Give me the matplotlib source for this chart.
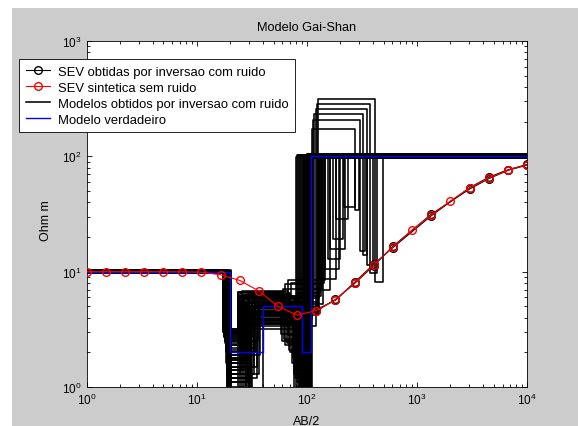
import matplotlib
matplotlib.use("Agg")
import matplotlib.pyplot as plt
from matplotlib.patches import Rectangle

plt.rcParams['font.family'] = ['Liberation Sans', 'DejaVu Sans']
plt.rcParams['mathtext.fontset'] = 'custom'
plt.rcParams['mathtext.rm'] = 'Liberation Sans'
plt.rcParams['mathtext.default'] = 'regular'

# AB/2 spacings (m)
ab2 = [1.0, 1.492, 2.227, 3.323, 4.963, 7.406, 11.05, 16.50, 24.62, 36.75,
       54.84, 81.85, 122.2, 182.4, 272.2, 406.3, 606.4, 905.0, 1350.7, 2016.0,
       3008.0, 4490.0, 6701.0, 10000.0]

# synthetic sounding, no noise
rho_sint = [10.0, 10.0, 10.0, 10.0, 10.0, 9.98, 9.9, 9.4, 8.4, 6.8,
            5.0, 4.2, 4.6, 5.7, 8.0, 11.4, 16.4, 23.0, 31.0, 41.0,
            53.0, 65.0, 76.0, 84.5]

# soundings of the inverted models (noisy data)
idx_obs = [10, 11, 12, 13, 14, 15, 16, 18, 20, 21, 22, 23]
rho_obs_a = [5.1, 4.25, 4.55, 5.75, 7.9, 11.3, 16.6, 31.5, 52.0, 64.0, 75.5, 84.0]
rho_obs_b = [4.9, 4.15, 4.7, 5.65, 8.1, 11.6, 16.2, 30.5, 53.5, 65.8, 76.5, 85.0]

# true model: layer bottoms and resistivities
prof_true = [20, 40, 90, 110]
rho_true = [10, 2, 5, 2, 100]

# inverted models, one entry per model
r1 = [10.0, 10.2, 9.9, 10.1, 9.8, 10.0, 10.3, 9.9, 10.1, 10.0,
      9.7, 10.2, 10.0, 9.9, 10.1, 10.4, 10.0, 9.8, 10.2, 10.0,
      9.9, 10.1, 10.0, 10.3, 9.8, 10.0, 10.1, 9.9, 10.2, 10.0,
      9.8, 10.1, 10.0, 9.9, 10.2, 10.0, 10.1, 9.7, 10.0, 10.1,
      10.0, 9.9, 10.2, 10.0, 10.1, 9.8, 10.0, 10.3, 9.9, 10.0,
      10.1, 9.9, 10.2, 10.0, 9.8, 10.1, 10.0, 9.9, 10.2, 10.0]
d1 = [19.5, 18.2, 20.1, 17.4, 19.0, 18.8, 20.4, 17.9, 19.7, 18.5,
      20.0, 17.2, 19.3, 18.0, 20.2, 17.6, 19.9, 18.6, 19.1, 20.3,
      17.8, 18.9, 19.6, 17.3, 20.0, 18.4, 19.4, 17.7, 20.5, 18.1,
      19.8, 18.7, 17.5, 19.2, 20.1, 18.3, 19.5, 17.9, 20.3, 18.6,
      19.0, 20.2, 18.3, 19.6, 17.6, 20.4, 18.8, 19.3, 17.9, 20.0,
      18.5, 19.8, 17.4, 20.3, 18.9, 19.4, 18.1, 20.1, 19.2, 17.8]
r2 = [1.8, 2.9, 1.2, 3.2, 0.8, 2.2, 1.0, 3.0, 1.5, 2.6,
      0.7, 3.1, 1.9, 2.4, 0.9, 2.8, 1.3, 2.0, 1.6, 0.6,
      2.7, 1.4, 1.1, 3.2, 0.8, 2.3, 1.7, 2.9, 0.5, 2.5,
      1.2, 1.9, 3.0, 1.5, 0.9, 2.1, 1.3, 2.8, 0.7, 1.6,
      0.9, 1.4, 2.6, 0.6, 3.1, 1.1, 2.0, 0.8, 2.7, 1.6,
      2.3, 0.7, 3.0, 1.3, 1.8, 0.9, 2.5, 1.2, 1.7, 2.9]
d2 = [28, 25, 31, 24, 29, 33, 27, 26, 35, 30,
      24, 28, 38, 26, 31, 29, 25, 34, 27, 30,
      32, 26, 29, 24, 40, 28, 31, 27, 25, 36,
      29, 26, 30, 33, 28, 25, 37, 27, 31, 29,
      30, 27, 25, 32, 24, 29, 34, 28, 26, 31,
      27, 30, 25, 33, 28, 26, 30, 35, 27, 29]
r3 = [4.8, 5.5, 3.6, 6.2, 4.2, 5.0, 3.9, 6.8, 4.5, 5.8,
      3.4, 6.0, 4.9, 5.3, 3.7, 6.5, 4.4, 5.1, 4.0, 3.2,
      5.7, 4.6, 3.8, 6.6, 4.1, 5.4, 4.7, 6.1, 3.5, 5.2,
      4.3, 5.9, 6.4, 4.8, 3.6, 5.0, 4.4, 6.3, 3.9, 5.6,
      4.5, 5.2, 6.0, 3.8, 6.7, 4.1, 5.5, 3.5, 6.3, 4.9,
      5.8, 3.7, 6.5, 4.3, 5.0, 4.6, 5.9, 3.9, 5.3, 6.1]
d3 = [88, 72, 95, 65, 82, 90, 78, 68, 93, 85,
      75, 60, 98, 80, 87, 70, 92, 83, 77, 96,
      66, 89, 81, 58, 94, 74, 86, 62, 99, 79,
      91, 84, 69, 97, 76, 88, 82, 64, 93, 86,
      84, 92, 70, 97, 63, 89, 78, 95, 67, 86,
      74, 99, 61, 90, 81, 94, 72, 87, 80, 76]
r4 = [4.2, 5.5, 3.4, 6.1, 4.8, 3.9, 1.2, 2.8, 0.3, 0.9,
      1.8, 2.5, 0.5, 1.0, 0.7, 2.0, 0.4, 1.3, 0.9, 0.6,
      2.4, 0.5, 1.1, 2.9, 0.3, 1.6, 0.8, 2.6, 0.4, 1.4,
      0.6, 1.0, 2.1, 0.5, 1.7, 0.7, 1.2, 2.3, 0.4, 0.9,
      6.5, 0.8, 5.2, 0.4, 7.8, 0.6, 4.6, 0.3, 8.5, 0.7,
      5.9, 0.4, 7.1, 0.6, 4.9, 0.5, 8.0, 0.3, 6.2, 1.3]
d4 = [127, 125, 121, 117, 114, 112, 100, 92, 104, 106,
      98, 84, 108, 102, 110, 90, 106, 105, 96, 104,
      86, 109, 101, 80, 102, 94, 107, 82, 108, 99,
      101, 103, 89, 107, 97, 97, 104, 85, 105, 108,
      132, 104, 140, 109, 136, 98, 128, 106, 145, 102,
      130, 111, 138, 96, 126, 108, 142, 100, 134, 94]
r5 = [316, 286, 258, 234, 205, 172, 101, 99, 103, 98,
      100, 102, 97, 104, 100, 99, 101, 103, 98, 100,
      102, 97, 104, 99, 101, 100, 98, 103, 99, 102,
      100, 97, 101, 104, 98, 100, 102, 99, 103, 100,
      99, 101, 103, 98, 100, 102, 97, 104, 100, 99,
      101, 98, 103, 100, 102, 97, 99, 104, 101, 100]

# extra thin layer below layer 5 for the first models
box_top = [417, 376, 350, 325, 305, 275, 127, 138, 147, 156, 163, 173, 185, 218]
box_bot = [493, 435, 400, 353, 339, 300, 163, 184, 196, 201, 223, 213, 235, 275]
box_rho = [8.1, 9.8, 11.5, 14.0, 15.0, 34.0, 7.0, 8.6, 10.6, 12.9, 15.7, 19.2, 28.6, 36.4]
rho_base = 100

x_max = 1e4

fig = plt.figure(figsize=(5.78, 4.27), dpi=100, facecolor='white')
fig.patches.append(Rectangle((12 / 578, 0), 1, 1 - 9 / 427, transform=fig.transFigure,
                             facecolor='#cccccc', edgecolor='none', zorder=-10))
ax = fig.add_axes([86.5 / 578, 39 / 427, 440.5 / 578, 346 / 427])
ax.set_xscale('log')
ax.set_yscale('log')

# inverted models as step curves
for i in range(len(r1)):
    xs = [1, d1[i], d2[i], d3[i], d4[i]]
    ys = [r1[i], r2[i], r3[i], r4[i], r5[i]]
    if i < len(box_top):
        xs += [box_top[i], box_bot[i]]
        ys += [box_rho[i], rho_base]
    xs.append(x_max)
    ys.append(ys[-1])
    h_mod, = ax.step(xs, ys, where='post', color='k', lw=1.15, zorder=2)

xs = [1] + prof_true + [x_max]
ys = rho_true + [rho_true[-1]]
h_true, = ax.step(xs, ys, where='post', color='#0000ff', lw=1.0, zorder=3)

x_obs = [ab2[k] for k in idx_obs]
h_obs, = ax.plot(x_obs, rho_obs_a, 'k-o', mfc='none', ms=5.5, lw=0.8, zorder=4)
ax.plot(x_obs, rho_obs_b, 'k-o', mfc='none', ms=5.5, lw=0.8, zorder=4)
h_sint, = ax.plot(ab2, rho_sint, '-o', color='#ff0000', mfc='none', ms=5.5, lw=0.8, zorder=5)

ax.set_xlim(1, 1e4)
ax.set_ylim(1, 1e3)
ax.tick_params(which='both', direction='in', top=True, right=True, labelsize=8.5)
ax.tick_params(which='major', length=3.5, width=0.6)
ax.tick_params(which='minor', length=2, width=0.6)
for s in ax.spines.values():
    s.set_linewidth(0.6)

ax.set_title('Modelo Gai-Shan', fontsize=9.2, pad=8)
ax.set_xlabel('AB/2', fontsize=9)
ax.set_ylabel('Ohm m', fontsize=9)
ax.xaxis.set_label_coords(0.5, -0.08)
ax.yaxis.set_label_coords(-0.078, 0.485)

leg = fig.legend([h_obs, h_sint, h_mod, h_true],
                 ['SEV obtidas por inversao com ruido', 'SEV sintetica sem ruido',
                  'Modelos obtidos por inversao com ruido', 'Modelo verdadeiro'],
                 loc='upper left', bbox_to_anchor=(19 / 578, 1 - 60 / 427),
                 fontsize=9.4, fancybox=False, framealpha=1, edgecolor='k',
                 borderaxespad=0, handlelength=1.9, handletextpad=0.6,
                 labelspacing=0.3, borderpad=0.5)
leg.get_frame().set_linewidth(0.6)

fig.savefig('out.png', dpi=100, facecolor=fig.get_facecolor())
